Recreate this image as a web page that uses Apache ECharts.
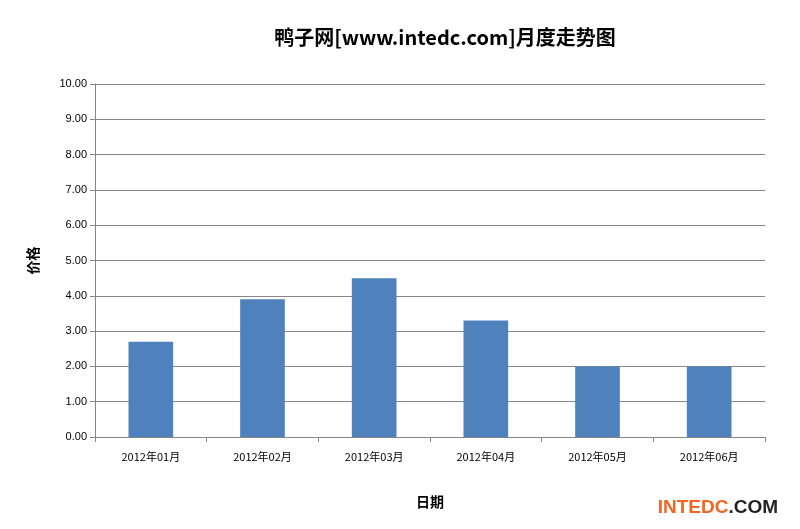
<!DOCTYPE html>
<html><head><meta charset="utf-8">
<script src="https://cdn.jsdelivr.net/npm/echarts@6/dist/echarts.min.js"></script>
<style>html,body{margin:0;padding:0;background:#fff}#c{width:800px;height:529px}</style>
</head><body><div id="c"></div>
<script>
var categories = ['2012年01月','2012年02月','2012年03月','2012年04月','2012年05月','2012年06月'];
var prices = [2.7, 3.9, 4.5, 3.3, 2.0, 2.0];
var chart = echarts.init(document.getElementById('c'));
chart.setOption({
  animation:false,
  title:{text:'鸭子网[www.intedc.com]月度走势图',left:440,top:22,textAlign:'center',
    textStyle:{fontSize:20,fontWeight:'bold',color:'#000',fontFamily:'Noto Sans CJK SC'}},
  grid:{left:95,right:35,top:84,bottom:92},
  xAxis:{type:'category',data:categories,name:'日期',nameLocation:'middle',nameGap:58,
    nameTextStyle:{fontSize:14,fontWeight:'bold',color:'#000',fontFamily:'Noto Sans CJK SC'},
    axisLine:{lineStyle:{color:'#868686'}},axisTick:{show:true,alignWithLabel:false,lineStyle:{color:'#868686'}},
    axisLabel:{fontSize:11,color:'#000',margin:14,fontFamily:'Noto Sans CJK SC'}},
  yAxis:{type:'value',min:0,max:10,interval:1,name:'价格',nameLocation:'middle',nameGap:55,nameRotate:90,
    nameTextStyle:{fontSize:14,fontWeight:'bold',color:'#000',fontFamily:'Noto Sans CJK SC'},
    axisLine:{show:true,lineStyle:{color:'#868686'}},axisTick:{show:true,lineStyle:{color:'#868686'}},
    axisLabel:{fontSize:11,color:'#000',formatter:function(v){return v.toFixed(2);}},
    splitLine:{lineStyle:{color:'#868686'}}},
  series:[{type:'bar',data:prices,barWidth:'40%',itemStyle:{color:'#4f81bd'}}],
  graphic:[{type:'text',right:22,bottom:12,style:{rich:{a:{fill:'#f26522',fontSize:19,fontWeight:'bold',fontFamily:'Liberation Sans'},b:{fill:'#222',fontSize:19,fontWeight:'bold',fontFamily:'Liberation Sans'}},text:'{a|INTEDC}{b|.COM}'}}]
});
</script></body></html>
